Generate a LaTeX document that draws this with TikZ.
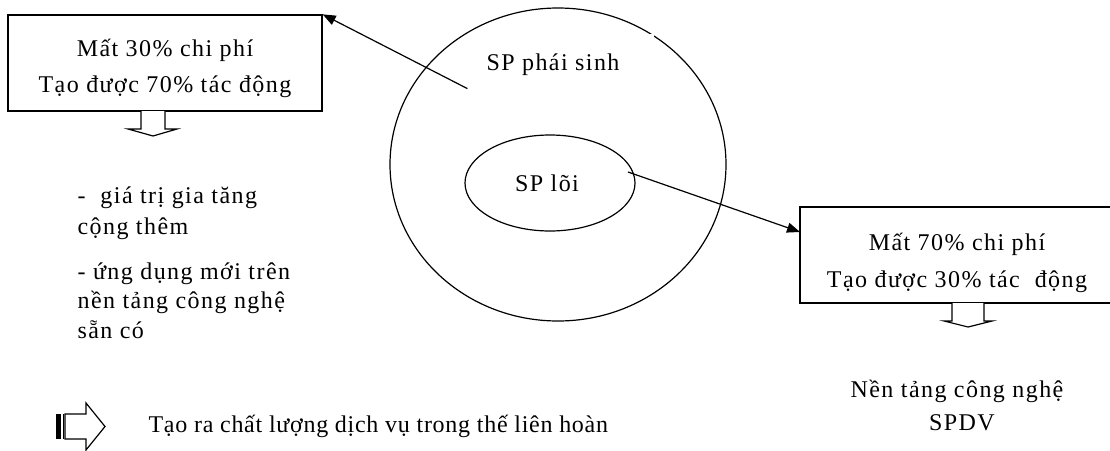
\documentclass[tikz,border=0pt]{standalone}
\usepackage{fontspec}
\setmainfont{Liberation Serif}
\newfontfamily\spaced[LetterSpace=6]{Liberation Serif}
\newfontfamily\spacedb[LetterSpace=3]{Liberation Serif}
\usetikzlibrary{arrows.meta,shapes.geometric}
\begin{document}
\begin{tikzpicture}[x=1pt,y=-1pt,line width=1.2pt,
  boxst/.style={draw,rectangle,line width=1.3pt,minimum width=314pt,minimum height=96pt,inner sep=0pt},
  txt/.style={inner sep=0pt,font=\spaced\fontsize{24}{28}\selectfont},
  plain/.style={inner sep=0pt,font=\spacedb\fontsize{24}{28}\selectfont},
  arr/.style={-{Triangle[length=13pt,width=10pt]},line width=1.2pt},
  hollow/.style={draw,line width=1.2pt,fill=white,line join=miter}]
\useasboundingbox (0,0) rectangle (1110,450);
\clip (0,0) rectangle (1110,450);
% outer and inner ellipses
\node[draw,ellipse,minimum width=336pt,minimum height=313pt,inner sep=0pt] (outer) at (558,164.5) {};
\node[fill=white,minimum width=186pt,minimum height=54pt,inner sep=0pt] (sp) at (561,61) {};
\node[txt,anchor=base] (sptext) at (553,70) {SP phái sinh};
\node[draw,ellipse,minimum width=170pt,minimum height=96pt,inner sep=0pt] (core) at (550,183) {};
\node[txt,anchor=base] (coretext) at (547,191) {SP lõi};
% boxes
\node[boxst] (box1) at (165,63) {};
\node[txt,anchor=base] (b1a) at (165,56) {Mất 30\% chi phí};
\node[txt,anchor=base] (b1b) at (165,92) {Tạo được 70\% tác động};
\node[boxst] (box2) at (957,255) {};
\node[txt,anchor=base] (b2a) at (957,250) {Mất 70\% chi phí};
\node[txt,anchor=base] (b2b) at (957,287) {Tạo được 30\% tác\ \ động};
% connectors
\coordinate (a2s) at (628,172);
\coordinate (a2e) at (800,232);
\draw[arr] (sp.south west) -- (box1.north east);
\draw[arr] (a2s) -- (a2e);
% hollow down arrows
\draw[hollow] (141,111) -- (141,129) -- (128,129) -- (153,136) -- (177,129) -- (165,129) -- (165,111);
\draw[hollow] (952,303) -- (952,321) -- (944,321) -- (968,327) -- (992,321) -- (984,321) -- (984,303);
% left texts
\node[txt,anchor=base west] (l1) at (77,203) {-\ \ giá trị gia tăng};
\node[txt,anchor=base west] (l2) at (77,234) {cộng thêm};
\node[txt,anchor=base west] (l3) at (77,279) {- ứng dụng mới trên};
\node[txt,anchor=base west] (l4) at (77,308) {nền tảng công nghệ};
\node[txt,anchor=base west] (l5) at (77,338) {sẵn có};
% right bottom texts
\node[txt,anchor=base] (r1) at (957,397) {Nền tảng công nghệ};
\node[txt,anchor=base] (r2) at (962,430) {SPDV};
% bottom striped arrow and text
\fill (56,414) rectangle (61,439);
\draw[line width=1pt] (63,414) -- (63,439);
\draw[hollow] (65,414) -- (86,414) -- (86,403) -- (105,426.5) -- (86,450) -- (86,439) -- (65,439) -- cycle;
\node[plain,anchor=base west] (bottom) at (148,432) {Tạo ra chất lượng dịch vụ trong thế liên hoàn};
\end{tikzpicture}
\end{document}
